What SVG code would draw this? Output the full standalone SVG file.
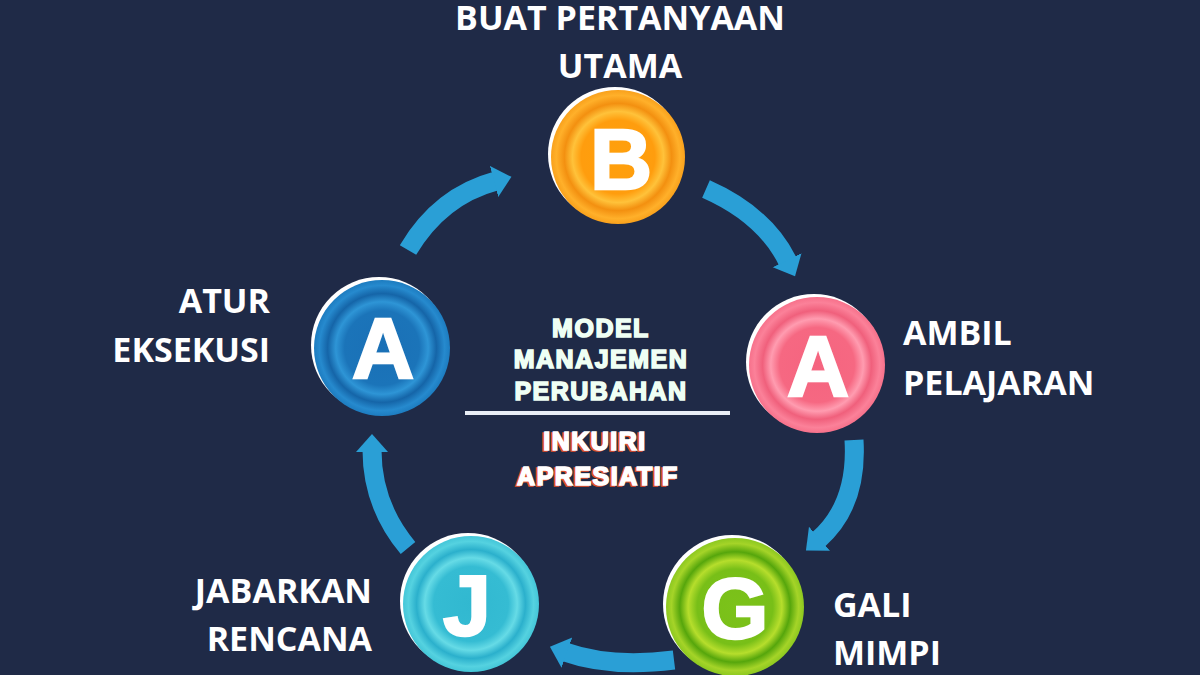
<svg xmlns="http://www.w3.org/2000/svg" width="1200" height="675" viewBox="0 0 1200 675">
<style>
.lbl{font-family:"Open Sans","Liberation Sans",sans-serif;font-weight:700;font-size:34px;fill:#ffffff}
.ltr{font-family:"Liberation Sans",Arial,sans-serif;font-weight:700;font-size:86px;fill:#ffffff;stroke:#ffffff;stroke-width:2.5;text-anchor:middle}
.mid{font-family:"Liberation Sans",Arial,sans-serif;font-weight:700;font-size:25px;letter-spacing:1.5px;stroke-width:1.6;text-anchor:middle}
.arc{fill:none;stroke:#2a9fd6;stroke-width:19}
.rim{fill:#ffffff}
</style>
<defs>
<marker id="head" markerUnits="userSpaceOnUse" markerWidth="40" markerHeight="40" refX="2" refY="16" orient="auto">
<path d="M0,0 L18,16 L0,32 Z" fill="#2a9fd6"/>
</marker>
<radialGradient id="gB">
<stop offset="0" stop-color="#ffa00c"/><stop offset="0.55" stop-color="#ff9d0e"/><stop offset="0.68" stop-color="#ffc23a"/><stop offset="0.8" stop-color="#f39010"/><stop offset="0.92" stop-color="#ffb02a"/><stop offset="1" stop-color="#f9a11c"/>
</radialGradient>
<radialGradient id="gP">
<stop offset="0" stop-color="#f5647f"/><stop offset="0.55" stop-color="#f66882"/><stop offset="0.68" stop-color="#ff9cb0"/><stop offset="0.8" stop-color="#f0607c"/><stop offset="0.92" stop-color="#fb8199"/><stop offset="1" stop-color="#f7718b"/>
</radialGradient>
<radialGradient id="gG">
<stop offset="0" stop-color="#7cc21a"/><stop offset="0.55" stop-color="#78bf18"/><stop offset="0.68" stop-color="#b6de2c"/><stop offset="0.8" stop-color="#56a60c"/><stop offset="0.92" stop-color="#a5d428"/><stop offset="1" stop-color="#8cc820"/>
</radialGradient>
<radialGradient id="gJ">
<stop offset="0" stop-color="#31b8d0"/><stop offset="0.55" stop-color="#35bcd3"/><stop offset="0.68" stop-color="#66dbe6"/><stop offset="0.8" stop-color="#2bb0cc"/><stop offset="0.92" stop-color="#55d2e0"/><stop offset="1" stop-color="#44c6d8"/>
</radialGradient>
<radialGradient id="gA">
<stop offset="0" stop-color="#1a70b6"/><stop offset="0.55" stop-color="#1b74b9"/><stop offset="0.68" stop-color="#2e95d6"/><stop offset="0.8" stop-color="#1565a8"/><stop offset="0.92" stop-color="#268ace"/><stop offset="1" stop-color="#1d7cc0"/>
</radialGradient>
</defs>
<rect width="1200" height="675" fill="#1f2a47"/>

<g id="connectors">
<path class="arc" d="M408 250 Q440 196 496 181" marker-end="url(#head)"/>
<path class="arc" d="M706 189 Q765 215 788 262" marker-end="url(#head)"/>
<path class="arc" d="M854 440 Q858 505 818 540" marker-end="url(#head)"/>
<path class="arc" d="M674 660 Q610 668 565 652" marker-end="url(#head)"/>
<path class="arc" d="M408 548 Q372 505 372 450" marker-end="url(#head)"/>
</g>

<g id="node-b">
<circle class="rim" cx="615" cy="154" r="67"/>
<circle cx="618" cy="157" r="67" fill="url(#gB)"/>
<text class="ltr" x="621" y="189">B</text>
<text class="lbl" x="620" y="30" text-anchor="middle">BUAT PERTANYAAN</text>
<text class="lbl" x="620" y="78" text-anchor="middle">UTAMA</text>
</g>

<g id="node-ambil">
<circle class="rim" cx="814" cy="362" r="68"/>
<circle cx="817" cy="365" r="68" fill="url(#gP)"/>
<text class="ltr" x="818" y="396">A</text>
<text class="lbl" x="903" y="345">AMBIL</text>
<text class="lbl" x="903" y="395">PELAJARAN</text>
</g>

<g id="node-g">
<circle class="rim" cx="732" cy="604" r="69"/>
<circle cx="735" cy="607" r="69" fill="url(#gG)"/>
<text class="ltr" x="735" y="638">G</text>
<text class="lbl" x="833" y="617">GALI</text>
<text class="lbl" x="833" y="665">MIMPI</text>
</g>

<g id="node-j">
<circle class="rim" cx="468" cy="601" r="68"/>
<circle cx="471" cy="604" r="68" fill="url(#gJ)"/>
<text class="ltr" x="467" y="635">J</text>
<text class="lbl" x="372" y="603" text-anchor="end">JABARKAN</text>
<text class="lbl" x="372" y="651" text-anchor="end">RENCANA</text>
</g>

<g id="node-atur">
<circle class="rim" cx="379" cy="345" r="68"/>
<circle cx="382" cy="348" r="68" fill="url(#gA)"/>
<text class="ltr" x="383" y="378">A</text>
<text class="lbl" x="270" y="313" text-anchor="end">ATUR</text>
<text class="lbl" x="270" y="362" text-anchor="end">EKSEKUSI</text>
</g>

<g id="center">
<text class="mid" x="601" y="337" fill="#effff4" stroke="#effff4">MODEL</text>
<text class="mid" x="601" y="368" fill="#effff4" stroke="#effff4">MANAJEMEN</text>
<text class="mid" x="601" y="400" fill="#effff4" stroke="#effff4">PERUBAHAN</text>
<rect x="465" y="411" width="265" height="4" fill="#e9eef6"/>
<text class="mid" x="593" y="451" fill="#e0502a" stroke="#e0502a" font-size="27">INKUIRI</text>
<text class="mid" x="595" y="450" fill="#ffffff" stroke="#ffffff" font-size="27">INKUIRI</text>
<text class="mid" x="596" y="486" fill="#e0502a" stroke="#e0502a" font-size="27">APRESIATIF</text>
<text class="mid" x="598" y="485" fill="#ffffff" stroke="#ffffff" font-size="27">APRESIATIF</text>
</g>
</svg>
